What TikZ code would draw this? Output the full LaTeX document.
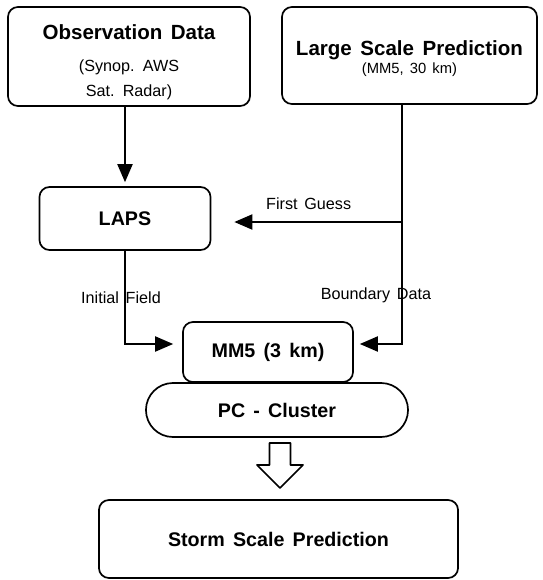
\documentclass[tikz,border=0pt]{standalone}
\usepackage{fontspec}
\setmainfont{Liberation Sans}[WordSpace=1.5]
\usetikzlibrary{arrows.meta}
\usetikzlibrary{calc}
\usetikzlibrary{shapes.misc}

\newcommand{\titlefont}{\fontsize{14}{17}\selectfont\bfseries}
\newcommand{\bigtitlefont}{\fontsize{14.6}{17}\selectfont\bfseries}
\newcommand{\subfont}{\fontsize{11.5}{17.8}\selectfont}
\newcommand{\smallsubfont}{\fontsize{10.5}{13}\selectfont}
\newcommand{\labelfont}{\fontsize{11.5}{14}\selectfont}

\begin{document}
\begin{tikzpicture}[x=0.025cm, y=-0.025cm]
        \tikzset{block/.style = {draw, line width=1.2pt, rounded corners=0.25cm, align=center, inner sep=0pt}}
        \tikzset{pill/.style = {draw, line width=1.2pt, rounded rectangle, align=center, inner sep=0pt}}
        \tikzset{edge/.style = {line width=1pt, -{Triangle[length=0.45cm, width=0.38cm]}}}
        \tikzset{line/.style = {line width=1pt}}
        \useasboundingbox (0,0) rectangle (542,580);

        \node[block, minimum width=6.05cm, minimum height=2.475cm, font=\subfont] (obs) at (129,56.5)
            {{\bigtitlefont\rule{0pt}{19pt}Observation Data}\\[5pt](Synop. AWS\\Sat. Radar)};
        \node[block, minimum width=6.375cm, minimum height=2.425cm] (large) at (409.5,55.5)
            {{\bigtitlefont\rule{0pt}{15pt}Large Scale Prediction}\\[1pt]\smallsubfont (MM5, 30 km)};
        \node[block, minimum width=4.275cm, minimum height=1.575cm, font=\titlefont] (laps) at (125,218.5) {LAPS};
        \node[pill, minimum width=6.55cm, minimum height=1.35cm, font=\titlefont] (pc) at (277,410) {PC - Cluster};
        \node[block, fill=white, minimum width=4.25cm, minimum height=1.5cm, font=\titlefont] (mm5) at (268,352) {MM5 (3 km)};
        \node[block, minimum width=8.975cm, minimum height=1.95cm, font=\titlefont] (storm) at (278.5,539) {Storm Scale Prediction};

        \coordinate (fork) at (402,222);

        \draw[edge, shorten >=0.1cm] (obs.south -| laps.north) -- (laps.north);
        \draw[line] (large.south -| fork) -- (fork);
        \draw[edge, shorten >=0.575cm] (fork) -- (fork -| laps.east)
            node[midway, above=5pt, font=\labelfont, xshift=0.05cm] {First Guess};
        \draw[edge] (fork) |- ($(mm5.east)+(6,-8)$)
            node[pos=0.3, xshift=-0.65cm, font=\labelfont] {Boundary Data};
        \draw[edge] (laps.south) |- ($(mm5.west)+(-9,-8)$)
            node[pos=0.25, xshift=-0.1cm, font=\labelfont] {Initial Field};

        % hollow arrow down to the result
        \draw[line width=1.2pt, line join=round]
            (269.5,443) -- (290.5,443) -- (290.5,465) -- (303,465) -- (280,488)
            -- (257,465) -- (269.5,465) -- cycle;
\end{tikzpicture}
\end{document}
